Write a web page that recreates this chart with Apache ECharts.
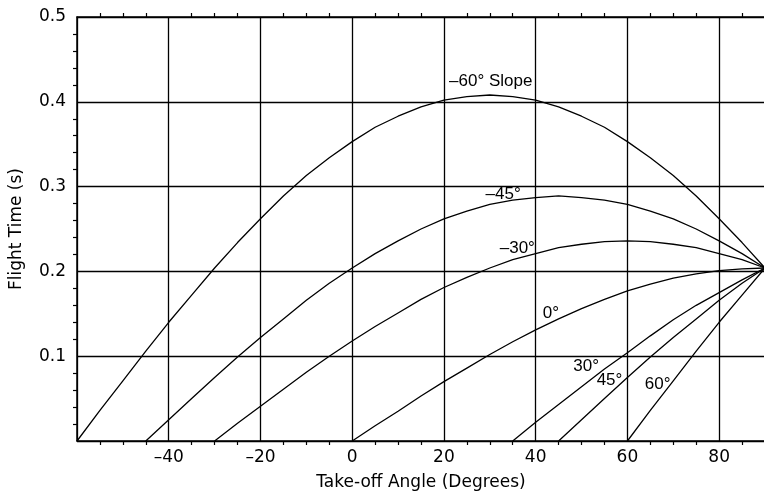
<!DOCTYPE html>
<html>
<head>
<meta charset="utf-8">
<style>
  html, body { margin: 0; padding: 0; background: #fff; overflow: hidden; }
  #chart { width: 768px; height: 496px; }
</style>
<script src="https://cdn.jsdelivr.net/npm/echarts@6/dist/echarts.min.js"></script>
</head>
<body>
<div id="chart"></div>
<script>
// Flight time versus take-off angle, one curve per slope angle.
const angM60 = [-60,-55,-50,-45,-40,-35,-30,-25,-20,-15,-10,-5,0,5,10,15,20,25,30,35,40,45,50,55,60,65,70,75,80,85,90];
const timeM60 = [0,.036,.071,.106,.140,.172,.204,.234,.262,.289,.313,.334,.353,.370,.383,.394,.402,.406,.408,.406,.402,.394,.383,.370,.353,.334,.313,.289,.262,.234,.204];

const angM45 = [-45,-40,-35,-30,-25,-20,-15,-10,-5,0,5,10,15,20,25,30,35,40,45,50,55,60,65,70,75,80,85,90];
const timeM45 = [0,.025,.050,.075,.099,.122,.144,.166,.186,.204,.221,.236,.250,.262,.271,.279,.284,.287,.289,.287,.284,.279,.271,.262,.250,.236,.221,.204];

const angM30 = [-30,-25,-20,-15,-10,-5,0,5,10,15,20,25,30,35,40,45,50,55,60,65,70,75,80,85,90];
const timeM30 = [0,.021,.041,.061,.081,.100,.118,.135,.151,.167,.181,.193,.204,.214,.221,.228,.232,.235,.236,.235,.232,.228,.221,.214,.204];

const angZero = [0,5,10,15,20,25,30,35,40,45,50,55,60,65,70,75,80,85,90];
const timeZero = [0,.018,.035,.053,.070,.086,.102,.117,.131,.144,.156,.167,.177,.185,.192,.197,.201,.203,.204];

const angP30 = [35,40,45,50,55,60,65,70,75,80,85,90];
const timeP30 = [0,.022,.043,.064,.085,.104,.124,.143,.160,.175,.190,.204];

const angP45 = [45,50,55,60,65,70,75,80,85,90];
const timeP45 = [0,.025,.050,.075,.099,.122,.144,.166,.186,.204];

const angP60 = [60,65,70,75,80,85,90];
const timeP60 = [0,.036,.071,.106,.140,.172,.204];

// Curve captions, anchored in data units
const captionText = ['\u201360\u00b0 Slope', '\u201345\u00b0', '\u201330\u00b0', '0\u00b0', '30\u00b0', '45\u00b0', '60\u00b0'];
const captionX = [30.2, 32.9, 36.0, 43.3, 51.0, 56.1, 66.6];
const captionY = [0.424, 0.291, 0.227, 0.151, 0.088, 0.072, 0.067];

// Axis settings
const xMin = -60, xMax = 90, xStep = 20;
const yMin = 0, yMax = 0.5, yStep = 0.1;
const xTitle = 'Take-off Angle (Degrees)';
const yTitle = 'Flight Time (s)';

const pair = (xs, ys) => xs.map((x, i) => [x, ys[i]]);
const curves = [
  pair(angM60, timeM60), pair(angM45, timeM45), pair(angM30, timeM30),
  pair(angZero, timeZero), pair(angP30, timeP30), pair(angP45, timeP45), pair(angP60, timeP60)
];

const axisFont = 'DejaVu Sans';
const ink = '#000';

function xLabel(v) {
  if (v === xMin || v === xMax) return '';
  return String(v).replace('-', '\u2013');
}
function yLabel(v) {
  if (v === yMin) return '';
  return v.toFixed(1);
}

const frameX = (show) => ({
  type: 'value', min: xMin, max: xMax, interval: xStep,
  axisLine: { show: true, onZero: false, lineStyle: { color: ink, width: 1.5 } },
  axisTick: { show: false },
  minorTick: { show: true, splitNumber: 4, length: 4, lineStyle: { color: ink, width: 1.2 } },
  axisLabel: show ? { show: true, formatter: xLabel, fontFamily: axisFont, fontSize: 17, color: ink, margin: 8 } : { show: false },
  splitLine: { show: show, lineStyle: { color: ink, width: 1.3 } }
});
const frameY = (show) => ({
  type: 'value', min: yMin, max: yMax, interval: yStep,
  axisLine: { show: true, onZero: false, lineStyle: { color: ink, width: 1.5 } },
  axisTick: { show: false },
  minorTick: { show: true, splitNumber: 5, length: 4, lineStyle: { color: ink, width: 1.2 } },
  axisLabel: show ? { show: true, formatter: yLabel, fontFamily: axisFont, fontSize: 17, color: ink, margin: 11 } : { show: false },
  splitLine: { show: show, lineStyle: { color: ink, width: 1.3 } }
});

const xBottom = Object.assign(frameX(true), {
  position: 'bottom', name: xTitle, nameLocation: 'middle', nameGap: 33,
  nameTextStyle: { fontFamily: axisFont, fontSize: 17, color: ink }
});
const xTop = Object.assign(frameX(false), { position: 'top' });
const yLeft = Object.assign(frameY(true), {
  position: 'left', name: yTitle, nameLocation: 'middle', nameGap: 52,
  nameTextStyle: { fontFamily: axisFont, fontSize: 17, color: ink }
});
const yRight = Object.assign(frameY(false), { position: 'right' });

const series = curves.map((d) => ({
  type: 'line', data: d, xAxisIndex: 0, yAxisIndex: 0,
  showSymbol: false, symbol: 'none', smooth: false, animation: false,
  lineStyle: { color: ink, width: 1.3 }, z: 3
}));
series.push({
  type: 'scatter', xAxisIndex: 0, yAxisIndex: 0, symbolSize: 0, animation: false, silent: true,
  itemStyle: { opacity: 1, color: 'transparent' },
  data: captionX.map((x, i) => ({ value: [x, captionY[i]], name: captionText[i] })),
  label: {
    show: true, position: 'inside', formatter: (p) => p.name,
    fontFamily: 'Liberation Sans', fontSize: 17, color: ink, opacity: 1
  },
  z: 4
});

const chart = echarts.init(document.getElementById('chart'), null, { renderer: 'canvas' });
chart.setOption({
  animation: false,
  backgroundColor: '#fff',
  grid: { left: 77, right: 1, top: 17, bottom: 53, containLabel: false },
  xAxis: [xBottom, xTop],
  yAxis: [yLeft, yRight],
  series: series
});
</script>
</body>
</html>
